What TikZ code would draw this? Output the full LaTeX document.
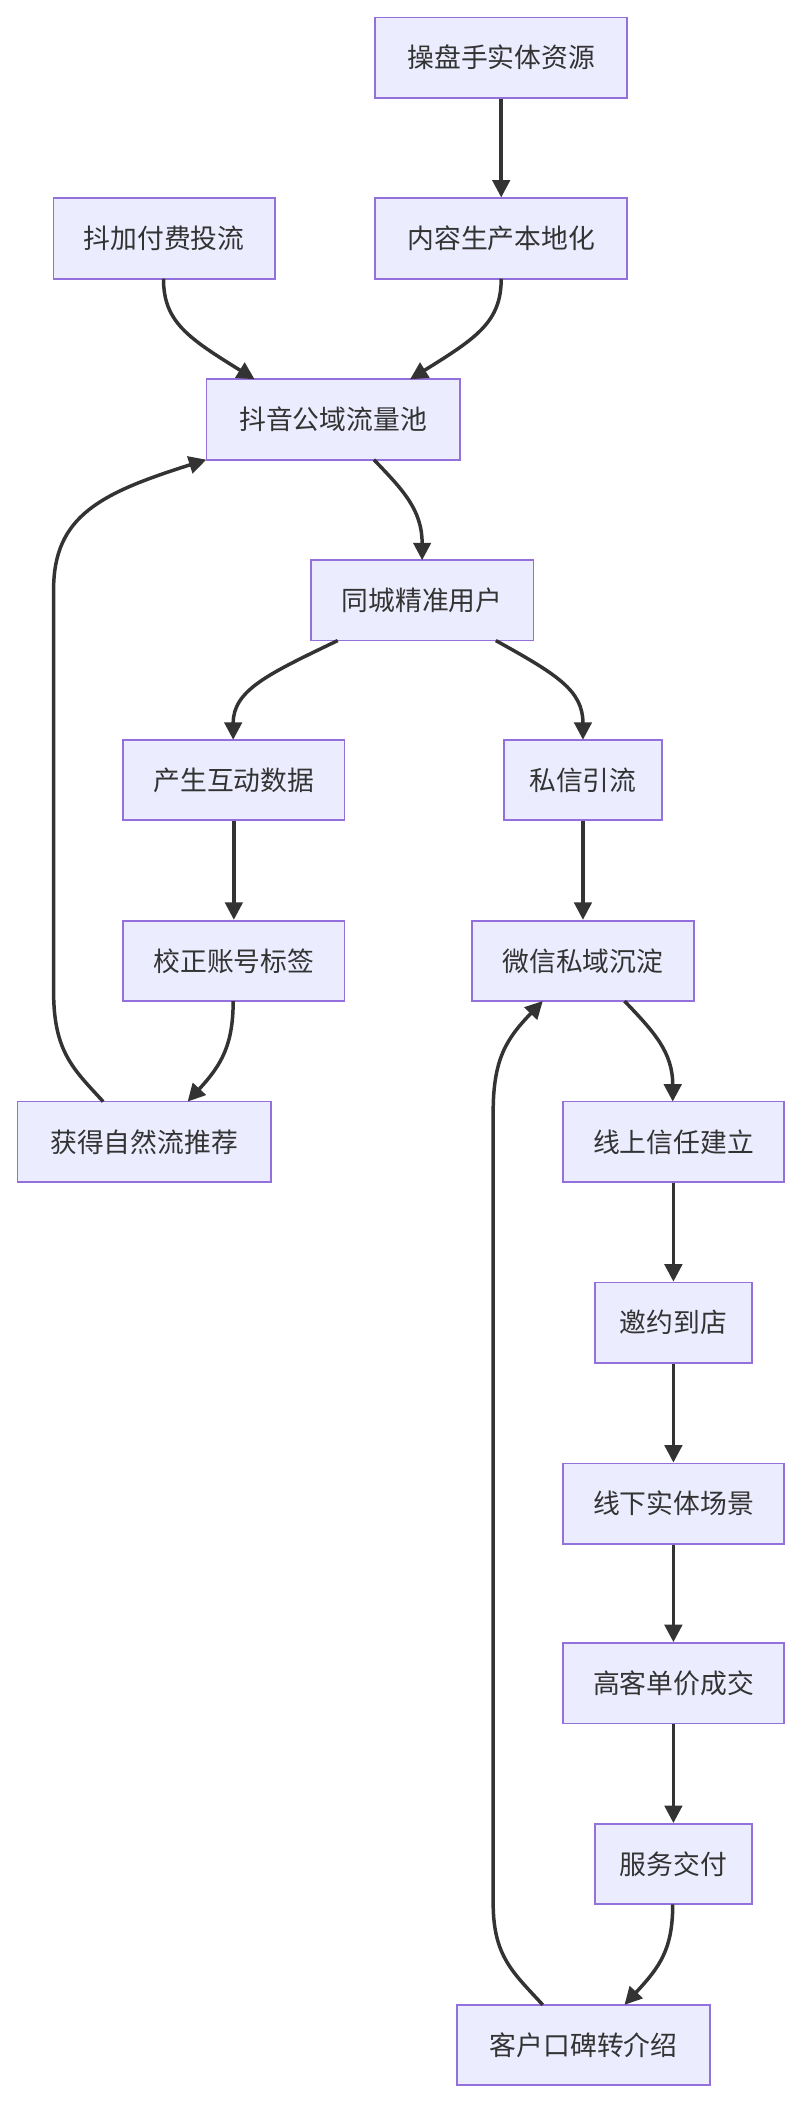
\documentclass[tikz,border=0pt]{standalone}
\usepackage{fontspec}
\setmainfont{Noto Sans CJK SC}
\usetikzlibrary{arrows.meta}
\definecolor{nfill}{HTML}{ECECFF}
\definecolor{nline}{HTML}{9370DB}
\definecolor{ecol}{HTML}{333333}
\begin{document}
\begin{tikzpicture}[x=1pt,y=-1pt,
  box/.style={draw=nline,fill=nfill,line width=1.3pt,minimum height=60pt,inner xsep=0pt,text=ecol,font=\fontsize{20}{24}\selectfont},
  e/.style={draw=ecol,line width=2.6pt,-{Triangle[length=13pt,width=13pt]}}]
\useasboundingbox (0,0) rectangle (600,1573);
\node[box,minimum width=188pt] (a) at (374,43) {操盘手实体资源};
\node[box,minimum width=165pt] (b) at (122.5,178) {抖加付费投流};
\node[box,minimum width=188pt] (c) at (374,178) {内容生产本地化};
\node[box,minimum width=189pt] (d) at (248.5,313) {抖音公域流量池};
\node[box,minimum width=166pt] (f) at (315,448) {同城精准用户};
\node[box,minimum width=165pt] (g) at (174.5,582) {产生互动数据};
\node[box,minimum width=118pt] (h) at (435,582) {私信引流};
\node[box,minimum width=165pt] (i) at (174.5,717) {校正账号标签};
\node[box,minimum width=166pt] (j) at (435,717) {微信私域沉淀};
\node[box,minimum width=189pt] (k) at (107.5,852) {获得自然流推荐};
\node[box,minimum width=165pt] (l) at (502.5,852) {线上信任建立};
\node[box,minimum width=117pt] (m) at (502.5,987) {邀约到店};
\node[box,minimum width=165pt] (n) at (502.5,1122) {线下实体场景};
\node[box,minimum width=165pt] (o) at (502.5,1256) {高客单价成交};
\node[box,minimum width=117pt] (p) at (502.5,1391) {服务交付};
\node[box,minimum width=189pt] (q) at (435.5,1526) {客户口碑转介绍};
\draw[e] (a) -- (c);
\draw[e] (122,208) .. controls (122,240) and (140,252) .. (190,283);
\draw[e] (374,208) .. controls (374,240) and (356,252) .. (306,283);
\draw[e] (279,343) .. controls (300,365) and (315,380) .. (315,418);
\draw[e] (252,478) .. controls (200,503) and (174,515) .. (174,552);
\draw[e] (370,478) .. controls (415,503) and (435,515) .. (435,552);
\draw[e] (g) -- (i);
\draw[e] (h) -- (j);
\draw[e] (174,747) .. controls (174,780) and (165,795) .. (140,822);
\draw[e] (77,822) .. controls (55,798) and (40,785) .. (40,740) -- (40,440) .. controls (40,385) and (75,368) .. (154,343);
\draw[e] (466,747) .. controls (488,770) and (502,785) .. (502,822);
\draw[e] (l) -- (m);
\draw[e] (m) -- (n);
\draw[e] (n) -- (o);
\draw[e] (o) -- (p);
\draw[e] (502,1421) .. controls (502,1455) and (492,1468) .. (466,1496);
\draw[e] (405,1496) .. controls (383,1472) and (368,1460) .. (368,1420) -- (368,830) .. controls (368,790) and (378,775) .. (405,747);
\end{tikzpicture}
\end{document}
